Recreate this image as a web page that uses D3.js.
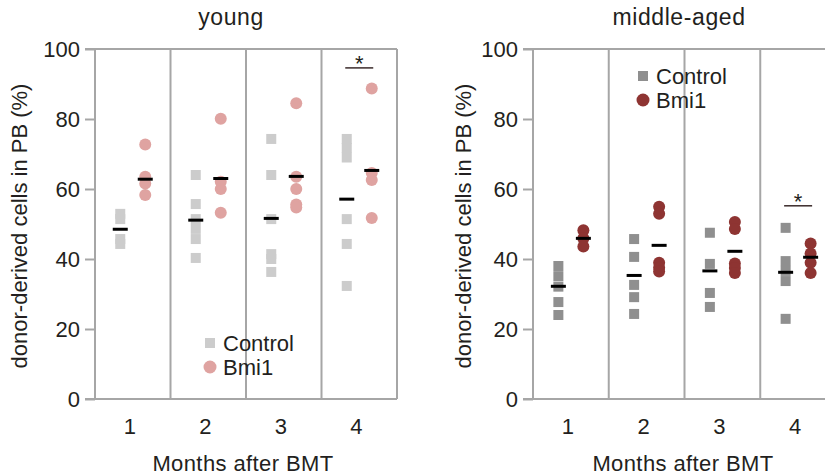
<!DOCTYPE html>
<html>
<head>
<meta charset="utf-8">
<script src="https://cdn.jsdelivr.net/npm/d3@7"></script>
<style>
  body { margin: 0; background: #fff; }
  text { font-family: "Liberation Sans", Arial, sans-serif; fill: #231f20; }
</style>
</head>
<body>
<div id="chart"></div>
<script>
// data
var months = ["1", "2", "3", "4"];
var yTicks = [0, 20, 40, 60, 80, 100];

var youngControl = [[52.9, 51.4, 45.7, 44.3], [64.0, 55.7, 51.4, 48.6, 45.7, 40.3],
                    [74.3, 64.0, 51.4, 41.4, 40.0, 36.3], [74.3, 71.7, 69.0, 51.4, 44.3, 32.3]];
var youngBmi1 = [[72.7, 63.5, 61.6, 58.3], [80.1, 62.1, 60.0, 53.2],
                 [84.5, 63.5, 60.0, 55.6, 54.7], [88.7, 64.6, 62.6, 51.7]];
var youngControlMean = [48.5, 51.1, 51.6, 57.1];
var youngBmi1Mean = [62.8, 63.0, 63.6, 65.3];

var midControl = [[38.0, 35.1, 32.1, 27.7, 24.0], [45.7, 40.6, 32.6, 29.1, 24.3],
                  [47.5, 38.6, 30.3, 26.3], [48.9, 39.4, 36.6, 33.7, 22.9]];
var midBmi1 = [[48.2, 45.9, 43.6], [54.9, 52.9, 38.9, 37.5, 36.4],
               [50.6, 48.6, 38.7, 37.4, 36.0], [44.4, 41.6, 38.9, 36.0]];
var midControlMean = [32.2, 35.3, 36.6, 36.2];
var midBmi1Mean = [45.9, 43.9, 42.2, 40.5];

var svg = d3.select("#chart")
    .append("svg")
    .attr("width", 825)
    .attr("height", 475);

var y = d3.scaleLinear().domain([0, 100]).range([399, 49]);
var frameColor = "#a6a6a6";

function drawPanel(p) {
  var x = d3.scaleBand().domain(months).range([p.left, p.right]);
  var g = svg.append("g");

  // frame + column dividers
  g.append("line").attr("x1", p.left - 10).attr("x2", p.right).attr("y1", y(100)).attr("y2", y(100))
    .attr("stroke", frameColor).attr("stroke-width", 2);
  g.append("line").attr("x1", p.left - 10).attr("x2", p.right).attr("y1", y(0)).attr("y2", y(0))
    .attr("stroke", frameColor).attr("stroke-width", 2);
  g.selectAll(".div")
    .data([p.left].concat(months.map(function(m) { return x(m) + x.bandwidth(); })))
    .enter().append("line")
    .attr("x1", function(d) { return d; }).attr("x2", function(d) { return d; })
    .attr("y1", y(100)).attr("y2", y(0))
    .attr("stroke", frameColor).attr("stroke-width", 2);

  // y axis ticks
  var yAxis = d3.axisLeft(y).tickValues(yTicks).tickSize(10).tickPadding(5);
  var ya = g.append("g").attr("transform", "translate(" + p.left + ",0)").call(yAxis);
  ya.select(".domain").remove();
  ya.selectAll(".tick line").attr("stroke", frameColor).attr("stroke-width", 2);
  ya.selectAll(".tick text").style("font-size", "22px").attr("fill", "#231f20")
    .attr("font-family", "Liberation Sans, Arial, sans-serif");

  // x labels
  g.selectAll(".xl").data(months).enter().append("text")
    .attr("x", function(d) { return x(d) + x.bandwidth() / 2 - 3; })
    .attr("y", 434)
    .attr("text-anchor", "middle")
    .style("font-size", "22px")
    .text(function(d) { return d; });

  g.append("text").attr("x", p.xTitle).attr("y", 471).attr("text-anchor", "middle")
    .style("font-size", "22px").style("letter-spacing", "0.4px").text("Months after BMT");
  g.append("text").attr("transform", "translate(" + p.yTitleX + ",226) rotate(-90)")
    .attr("text-anchor", "middle").style("font-size", "22px")
    .text("donor-derived cells in PB (%)");
  g.append("text").attr("x", p.titleX).attr("y", 25).attr("text-anchor", "middle")
    .style("font-size", "23px").style("letter-spacing", "0.6px").text(p.title);

  var off = 12.5;
  months.forEach(function(m, i) {
    var cx = x(m) + x.bandwidth() / 2;
    // control squares
    g.selectAll(".c" + i).data(p.control[i]).enter().append("rect")
      .attr("x", cx - off - 5).attr("y", function(d) { return y(d) - 5; })
      .attr("width", 10).attr("height", 10)
      .attr("fill", p.cColor);
    // Bmi1 circles
    g.selectAll(".b" + i).data(p.bmi1[i]).enter().append("circle")
      .attr("cx", cx + off).attr("cy", function(d) { return y(d); })
      .attr("r", 6).attr("fill", p.bColor);
    // mean bars
    g.append("line").attr("x1", cx - off - 7.5).attr("x2", cx - off + 7.5)
      .attr("y1", y(p.controlMean[i])).attr("y2", y(p.controlMean[i]))
      .attr("stroke", "#000").attr("stroke-width", 3);
    g.append("line").attr("x1", cx + off - 7.5).attr("x2", cx + off + 7.5)
      .attr("y1", y(p.bmi1Mean[i])).attr("y2", y(p.bmi1Mean[i]))
      .attr("stroke", "#000").attr("stroke-width", 3);
  });

  // significance mark
  var sx = x(p.sig.month) + x.bandwidth() / 2;
  g.append("line").attr("x1", sx - 14).attr("x2", sx + 14)
    .attr("y1", y(p.sig.value)).attr("y2", y(p.sig.value))
    .attr("stroke", "#3a2a2a").attr("stroke-width", 1.5);
  g.append("text").attr("x", sx).attr("y", y(p.sig.value) + 3).attr("text-anchor", "middle")
    .style("font-size", "22px").text("*");

  // legend
  g.append("rect").attr("x", p.legX - 5).attr("y", p.legY - 5).attr("width", 10).attr("height", 10)
    .attr("fill", p.cColor);
  g.append("circle").attr("cx", p.legX).attr("cy", p.legY + 24).attr("r", 6.5).attr("fill", p.bColor);
  g.append("text").attr("x", p.legX + 13).attr("y", p.legY + 8).style("font-size", "22px").text("Control");
  g.append("text").attr("x", p.legX + 13).attr("y", p.legY + 32).style("font-size", "22px").text("Bmi1");
}

drawPanel({
  left: 95, right: 397, title: "young", titleX: 231, xTitle: 243, yTitleX: 27,
  control: youngControl, bmi1: youngBmi1,
  controlMean: youngControlMean, bmi1Mean: youngBmi1Mean,
  cColor: "#cccccc", bColor: "#dfa3a1",
  sig: { month: "4", value: 94.6 },
  legX: 210, legY: 343
});

drawPanel({
  left: 533, right: 836, title: "middle-aged", titleX: 679, xTitle: 683, yTitleX: 471,
  control: midControl, bmi1: midBmi1,
  controlMean: midControlMean, bmi1Mean: midBmi1Mean,
  cColor: "#8f8f8f", bColor: "#8e3432",
  sig: { month: "4", value: 55.2 },
  legX: 643, legY: 76
});
</script>
</body>
</html>
